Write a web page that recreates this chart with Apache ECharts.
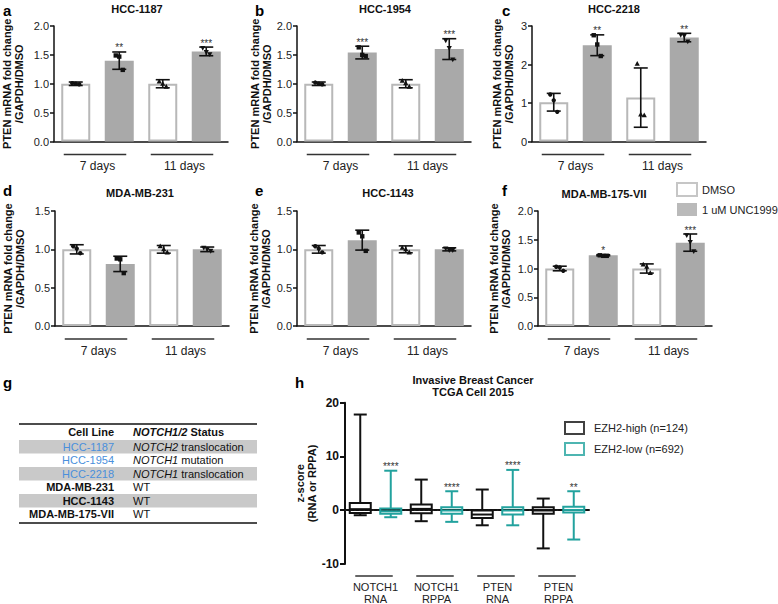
<!DOCTYPE html>
<html><head><meta charset="utf-8">
<script src="https://cdn.jsdelivr.net/npm/echarts@6/dist/echarts.min.js"></script>
<style>html,body{margin:0;padding:0;background:#fff}#c{width:778px;height:604px}</style>
</head><body><div id="c"></div>
<script>
const FONT = '"Liberation Sans", Arial, Helvetica, sans-serif';

// ---------------- data ----------------
const barCategories = ['DMSO 7 days', 'UNC1999 7 days', 'DMSO 11 days', 'UNC1999 11 days'];
const groupLabels = ['7 days', '11 days'];
const treatmentNames = ['DMSO', '1 uM UNC1999'];
const yAxisTitle = 'PTEN mRNA fold change\n/GAPDH/DMSO';

const hcc1187Mean = [1.00, 1.40, 1.00, 1.56];
const hcc1187Sd = [0.03, 0.15, 0.07, 0.075];
const hcc1187Points = [[1.01, 1.00, 0.99], [1.49, 1.47, 1.24], [1.04, 1.00, 0.95], [1.62, 1.55, 1.51]];
const hcc1187Stars = ['', '**', '', '***'];

const hcc1954Mean = [1.00, 1.54, 1.00, 1.60];
const hcc1954Sd = [0.03, 0.11, 0.07, 0.18];
const hcc1954Points = [[1.02, 1.00, 0.99], [1.63, 1.50, 1.48], [1.05, 1.01, 0.95], [1.75, 1.62, 1.42]];
const hcc1954Stars = ['', '***', '', '***'];

const hcc2218Mean = [1.02, 2.50, 1.14, 2.70];
const hcc2218Sd = [0.23, 0.27, 0.77, 0.11];
const hcc2218Points = [[1.22, 1.07, 0.77], [2.76, 2.52, 2.22], [2.02, 0.70, 0.68], [2.77, 2.75, 2.60]];
const hcc2218Stars = ['', '**', '', '**'];

const mda231Mean = [1.00, 0.81, 1.00, 1.00];
const mda231Sd = [0.06, 0.10, 0.05, 0.03];
const mda231Points = [[1.04, 1.01, 0.95], [0.88, 0.87, 0.69], [1.04, 1.00, 0.96], [1.02, 1.00, 0.98]];
const mda231Stars = ['', '', '', ''];

const hcc1143Mean = [1.00, 1.12, 1.00, 1.00];
const hcc1143Sd = [0.05, 0.13, 0.045, 0.02];
const hcc1143Points = [[1.04, 1.01, 0.96], [1.22, 1.17, 0.98], [1.02, 1.00, 0.96], [1.01, 0.99, 0.99]];
const hcc1143Stars = ['', '', '', ''];

const mda175Mean = [1.00, 1.23, 1.00, 1.45];
const mda175Sd = [0.04, 0.01, 0.08, 0.15];
const mda175Points = [[1.03, 1.02, 0.96], [1.23, 1.22, 1.22], [1.07, 1.03, 0.92], [1.58, 1.46, 1.30]];
const mda175Stars = ['', '*', '', '***'];

// table (panel g)
const tableHeader = ['Cell Line', 'NOTCH1/2', ' Status'];
const tableCellLines = ['HCC-1187', 'HCC-1954', 'HCC-2218', 'MDA-MB-231', 'HCC-1143', 'MDA-MB-175-VII'];
const tableNotchAltered = [true, true, true, false, false, false];
const tableStatusGene = ['NOTCH2', 'NOTCH1', 'NOTCH1', '', '', ''];
const tableStatusRest = [' translocation', ' mutation', ' translocation', 'WT', 'WT', 'WT'];

// boxplot (panel h): [min, Q1, median, Q3, max]
const boxGroups = ['NOTCH1\nRNA', 'NOTCH1\nRPPA', 'PTEN\nRNA', 'PTEN\nRPPA'];
const boxSeriesNames = ['EZH2-high (n=124)', 'EZH2-low (n=692)'];
const ezh2HighBoxes = [[-0.93, -0.5, 0.2, 1.36, 17.8], [-2.04, -0.55, 0.25, 1.05, 5.7], [-2.8, -1.45, -0.8, -0.05, 3.85], [-7.1, -0.65, -0.05, 0.55, 2.17]];
const ezh2LowBoxes = [[-1.3, -0.65, -0.2, 0.3, 7.35], [-2.16, -0.65, -0.05, 0.55, 3.53], [-2.8, -0.8, -0.05, 0.55, 7.5], [-5.45, -0.4, 0.05, 0.65, 3.53]];
const ezh2LowStars = ['****', '****', '****', '**'];
const boxYTicks = [-10, 0, 10, 20];

// ---------------- styles / layout ----------------
const WHITE_BAR = { color: '#ffffff', borderColor: '#b8b8b8', borderWidth: 2 };
const GREY_BAR = { color: '#a9a9a9', borderColor: '#a9a9a9', borderWidth: 0 };
const TEAL = '#22a29e';
const AX = { color: '#111', width: 1.5 };
const INK = '#222';

const panels = [
  { letter: 'a', title: 'HCC-1187', mean: hcc1187Mean, sd: hcc1187Sd, pts: hcc1187Points, stars: hcc1187Stars, max: 2, interval: 0.5, dec: 1, left: 54, top: 26, height: 115.5, nameGap: 29, titleX: 137, titleTop: 2, letterX: 3, letterY: 10 },
  { letter: 'b', title: 'HCC-1954', mean: hcc1954Mean, sd: hcc1954Sd, pts: hcc1954Points, stars: hcc1954Stars, max: 2, interval: 0.5, dec: 1, left: 297, top: 26, height: 115.5, nameGap: 24, titleX: 385, titleTop: 2, letterX: 255, letterY: 10 },
  { letter: 'c', title: 'HCC-2218', mean: hcc2218Mean, sd: hcc2218Sd, pts: hcc2218Points, stars: hcc2218Stars, max: 3, interval: 1, dec: 0, left: 532, top: 26, height: 115.5, nameGap: 17, titleX: 614, titleTop: 2, letterX: 502, letterY: 10 },
  { letter: 'd', title: 'MDA-MB-231', mean: mda231Mean, sd: mda231Sd, pts: mda231Points, stars: mda231Stars, max: 1.5, interval: 0.5, dec: 1, left: 55, top: 211, height: 115, nameGap: 29, titleX: 140, titleTop: 186, letterX: 3, letterY: 190 },
  { letter: 'e', title: 'HCC-1143', mean: hcc1143Mean, sd: hcc1143Sd, pts: hcc1143Points, stars: hcc1143Stars, max: 1.5, interval: 0.5, dec: 1, left: 297, top: 211, height: 115, nameGap: 25, titleX: 388, titleTop: 186, letterX: 255, letterY: 190 },
  { letter: 'f', title: 'MDA-MB-175-VII', mean: mda175Mean, sd: mda175Sd, pts: mda175Points, stars: mda175Stars, max: 2, interval: 0.5, dec: 1, left: 538, top: 211, height: 115, nameGap: 26, titleX: 604, titleTop: 187, letterX: 502, letterY: 190 }
];

const grids = [], xAxes = [], yAxes = [], series = [], titles = [];

function groupSeries(idx, pairs, labels, baseY, extL, extR, fontSize, lineOff) {
  return {
    type: 'custom', xAxisIndex: idx, yAxisIndex: idx, silent: true, clip: false,
    itemStyle: { color: INK },
    data: pairs,
    renderItem: function (params, api) {
      const p0 = api.coord([api.value(0), baseY]);
      const p1 = api.coord([api.value(1), baseY]);
      const y = p0[1] + lineOff;
      const x1 = p0[0] - extL, x2 = p1[0] + extR;
      return { type: 'group', children: [
        { type: 'line', shape: { x1: x1, y1: y, x2: x2, y2: y }, style: { stroke: '#333', lineWidth: 1.6 } },
        { type: 'text', style: { text: labels[params.dataIndex], x: (p0[0] + p1[0]) / 2, y: y + 5, align: 'center', verticalAlign: 'top', fontSize: fontSize, lineHeight: fontSize + 1, fontFamily: FONT, fill: INK } }
      ] };
    }
  };
}

function starSeries(idx, data, stars, gap) {
  return {
    type: 'custom', xAxisIndex: idx, yAxisIndex: idx, silent: true, clip: false,
    itemStyle: { color: '#333' },
    data: data,
    renderItem: function (params, api) {
      const s = stars[params.dataIndex];
      if (!s) return null;
      const c = api.coord([api.value(0), api.value(1)]);
      return { type: 'text', style: { text: s, x: c[0], y: c[1] + gap, align: 'center', verticalAlign: 'bottom', fontSize: 10, fontFamily: FONT, fill: '#333' } };
    }
  };
}

panels.forEach(function (p, i) {
  grids.push({ left: p.left, top: p.top, width: 174, height: p.height });
  xAxes.push({
    gridIndex: i, type: 'category', data: barCategories,
    axisLine: { lineStyle: AX }, axisTick: { alignWithLabel: true, length: 5, lineStyle: AX },
    axisLabel: { show: false }, splitLine: { show: false }
  });
  yAxes.push({
    gridIndex: i, type: 'value', min: 0, max: p.max, interval: p.interval,
    axisLine: { show: true, lineStyle: AX }, axisTick: { show: true, length: 4, lineStyle: AX },
    axisLabel: { formatter: function (v) { return v.toFixed(p.dec); }, fontSize: 11, color: INK, fontFamily: FONT, margin: 5 },
    splitLine: { show: false },
    name: yAxisTitle, nameLocation: 'middle', nameGap: p.nameGap,
    nameTextStyle: { fontWeight: 'bold', fontSize: 11, lineHeight: 12, color: '#111', fontFamily: FONT }
  });
  series.push({
    type: 'bar', xAxisIndex: i, yAxisIndex: i, barWidth: 29, silent: true,
    data: p.mean.map(function (v, k) { return { value: v, itemStyle: k % 2 === 0 ? WHITE_BAR : GREY_BAR }; })
  });
  // error bars (mean +/- SD)
  series.push({
    type: 'custom', xAxisIndex: i, yAxisIndex: i, silent: true, clip: false, z: 4,
    itemStyle: { color: '#111' },
    data: p.mean.map(function (m, k) { return [k, m, p.sd[k]]; }),
    renderItem: function (params, api) {
      const x = api.value(0), m = api.value(1), s = api.value(2);
      const t = api.coord([x, m + s]), b = api.coord([x, m - s]);
      const cx = t[0], w = 7, st = { stroke: '#111', lineWidth: 1.6 };
      return { type: 'group', children: [
        { type: 'line', shape: { x1: cx, y1: t[1], x2: cx, y2: b[1] }, style: st },
        { type: 'line', shape: { x1: cx - w, y1: t[1], x2: cx + w, y2: t[1] }, style: st },
        { type: 'line', shape: { x1: cx - w, y1: b[1], x2: cx + w, y2: b[1] }, style: st }
      ] };
    }
  });
  // individual replicate points
  const ptData = [];
  p.pts.forEach(function (arr, k) { arr.forEach(function (v, j) { ptData.push([k, v, j]); }); });
  series.push({
    type: 'custom', xAxisIndex: i, yAxisIndex: i, silent: true, clip: false, z: 5,
    itemStyle: { color: '#111' },
    data: ptData,
    renderItem: function (params, api) {
      const k = api.value(0), j = api.value(2);
      const c = api.coord([k, api.value(1)]);
      const x = c[0] + (j - 1) * 3.5, y = c[1], r = 2.2;
      const st = { fill: '#111' };
      if (k === 0) return { type: 'circle', shape: { cx: x, cy: y, r: r }, style: st };
      if (k === 1) return { type: 'rect', shape: { x: x - r, y: y - r, width: 2 * r, height: 2 * r }, style: st };
      if (k === 2) return { type: 'polygon', shape: { points: [[x, y - 2.8], [x - 2.6, y + 2], [x + 2.6, y + 2]] }, style: st };
      return { type: 'polygon', shape: { points: [[x, y + 2.8], [x - 2.6, y - 2], [x + 2.6, y - 2]] }, style: st };
    }
  });
  series.push(starSeries(i, p.mean.map(function (m, k) { return [k, m + p.sd[k]]; }), p.stars, 1));
  series.push(groupSeries(i, [[0, 1], [2, 3]], groupLabels, 0, 12, 7, 12, 13));
  titles.push({ text: p.title, left: p.titleX, top: p.titleTop, textAlign: 'center', padding: 0,
    textStyle: { fontSize: 11, fontWeight: 'bold', fontFamily: FONT, color: '#111', lineHeight: 13 } });
});

// ---------------- panel h (box-and-whisker, min to max) ----------------
const H = panels.length;
const boxCats = [];
const boxData = [];
const starData = [];
const starText = [];
const boxPairs = [];
boxGroups.forEach(function (g, k) {
  boxCats.push(g.replace('\n', ' ') + ' EZH2-high', g.replace('\n', ' ') + ' EZH2-low');
  boxData.push([2 * k].concat(ezh2HighBoxes[k]));
  boxData.push([2 * k + 1].concat(ezh2LowBoxes[k]));
  starData.push([2 * k + 1, ezh2LowBoxes[k][4]]);
  starText.push(ezh2LowStars[k]);
  boxPairs.push([2 * k, 2 * k + 1]);
});
grids.push({ left: 345, top: 402.7, width: 244, height: 161.3 });
xAxes.push({ gridIndex: H, type: 'category', data: boxCats,
  axisLine: { lineStyle: { color: '#111', width: 2 } }, axisTick: { alignWithLabel: true, length: 5, lineStyle: { color: '#111', width: 2 } },
  axisLabel: { show: false }, splitLine: { show: false } });
yAxes.push({ gridIndex: H, type: 'value', min: boxYTicks[0], max: boxYTicks[boxYTicks.length - 1], interval: 10,
  axisLine: { show: true, lineStyle: { color: '#111', width: 2 } }, axisTick: { show: true, length: 5, lineStyle: { color: '#111', width: 2 } },
  axisLabel: { fontSize: 12, fontWeight: 'bold', color: '#111', fontFamily: FONT, margin: 6 },
  splitLine: { show: false },
  name: 'z-score\n(RNA or RPPA)', nameLocation: 'middle', nameGap: 27,
  nameTextStyle: { fontWeight: 'bold', fontSize: 11, lineHeight: 12, color: '#111', fontFamily: FONT } });
// dotted zero reference line across the plot
series.push({ type: 'custom', xAxisIndex: H, yAxisIndex: H, silent: true, clip: false, z: 1,
  itemStyle: { color: '#222' }, data: [[0, 0]],
  renderItem: function (params, api) {
    const cs = params.coordSys;
    const y = api.coord([0, api.value(1)])[1];
    return { type: 'line', shape: { x1: cs.x, y1: y, x2: cs.x + cs.width, y2: y }, style: { stroke: '#222', lineWidth: 1.6, lineDash: [1.6, 3] } };
  } });
series.push({ type: 'custom', xAxisIndex: H, yAxisIndex: H, silent: true, clip: false, z: 3,
  encode: { x: 0, y: [1, 2, 3, 4, 5] },
  itemStyle: { color: '#111' }, data: boxData,
  renderItem: function (params, api) {
    const x = api.value(0);
    const pMin = api.coord([x, api.value(1)]), pQ1 = api.coord([x, api.value(2)]), pMed = api.coord([x, api.value(3)]),
      pQ3 = api.coord([x, api.value(4)]), pMax = api.coord([x, api.value(5)]);
    const cx = pMin[0], hw = 10.5, cw = 6.5;
    const st = { stroke: params.dataIndex % 2 === 0 ? '#111' : TEAL, lineWidth: 2, fill: null };
    return { type: 'group', children: [
      { type: 'line', shape: { x1: cx, y1: pMax[1], x2: cx, y2: pQ3[1] }, style: st },
      { type: 'line', shape: { x1: cx, y1: pQ1[1], x2: cx, y2: pMin[1] }, style: st },
      { type: 'line', shape: { x1: cx - cw, y1: pMax[1], x2: cx + cw, y2: pMax[1] }, style: st },
      { type: 'line', shape: { x1: cx - cw, y1: pMin[1], x2: cx + cw, y2: pMin[1] }, style: st },
      { type: 'rect', shape: { x: cx - hw, y: pQ3[1], width: 2 * hw, height: pQ1[1] - pQ3[1] }, style: { stroke: st.stroke, lineWidth: 2, fill: 'none' } },
      { type: 'line', shape: { x1: cx - hw, y1: pMed[1], x2: cx + hw, y2: pMed[1] }, style: st }
    ] };
  } });
series.push(starSeries(H, starData, starText, 1));
series.push(groupSeries(H, boxPairs, boxGroups, boxYTicks[0], 5, 2, 11, 12));
titles.push({ text: 'Invasive Breast Cancer\nTCGA Cell 2015', left: 473, top: 374, textAlign: 'center', padding: 0,
  textStyle: { fontSize: 11, fontWeight: 'bold', fontFamily: FONT, color: '#111', lineHeight: 12 } });

// legend placeholder series
treatmentNames.concat(boxSeriesNames).forEach(function (n) {
  series.push({ type: 'scatter', name: n, xAxisIndex: H, yAxisIndex: H, data: [] });
});

// ---------------- graphics: panel letters + table ----------------
const graphics = [];
panels.concat([{ letter: 'g', letterX: 3, letterY: 382 }, { letter: 'h', letterX: 295, letterY: 382 }]).forEach(function (p) {
  graphics.push({ type: 'text', x: p.letterX, y: p.letterY, style: { text: p.letter, fontSize: 15, fontWeight: 'bold', fontFamily: FONT, fill: '#000', verticalAlign: 'middle' } });
});
const TX0 = 19, TX1 = 257, TTOP = 424, THEAD = 432.3, TROW0 = 446.7, TSTEP = 13.5, TNAMEX = 114, TSTATX = 133;
graphics.push({ type: 'line', shape: { x1: TX0, y1: TTOP, x2: TX1, y2: TTOP }, style: { stroke: '#111', lineWidth: 1.6 } });
tableCellLines.forEach(function (name, r) {
  const cy = TROW0 + r * TSTEP;
  if (r % 2 === 0) graphics.push({ type: 'rect', shape: { x: TX0, y: cy - TSTEP / 2, width: TX1 - TX0, height: TSTEP }, style: { fill: '#c9c9c9' } });
  graphics.push({ type: 'text', x: TNAMEX, y: cy, style: { text: name, align: 'right', verticalAlign: 'middle', fontSize: 11, fontWeight: tableNotchAltered[r] ? 'normal' : 'bold', fontFamily: FONT, fill: tableNotchAltered[r] ? '#4a8fdc' : '#111' } });
  const txt = tableStatusGene[r] ? '{i|' + tableStatusGene[r] + '}' + tableStatusRest[r] : tableStatusRest[r];
  graphics.push({ type: 'text', x: TSTATX, y: cy, style: { text: txt, align: 'left', verticalAlign: 'middle', fontSize: 11, fontFamily: FONT, fill: '#111', rich: { i: { fontStyle: 'italic', fontSize: 11, fontFamily: FONT, fill: '#111' } } } });
});
graphics.push({ type: 'text', x: TNAMEX, y: THEAD, style: { text: tableHeader[0], align: 'right', verticalAlign: 'middle', fontSize: 11, fontWeight: 'bold', fontFamily: FONT, fill: '#111' } });
graphics.push({ type: 'text', x: TSTATX, y: THEAD, style: { text: '{bi|' + tableHeader[1] + '}' + tableHeader[2], align: 'left', verticalAlign: 'middle', fontSize: 11, fontWeight: 'bold', fontFamily: FONT, fill: '#111', rich: { bi: { fontStyle: 'italic', fontWeight: 'bold', fontSize: 11, fontFamily: FONT, fill: '#111' } } } });
const TBOT = TROW0 + (tableCellLines.length - 0.5) * TSTEP + 2;
graphics.push({ type: 'line', shape: { x1: TX0, y1: TBOT, x2: TX1, y2: TBOT }, style: { stroke: '#111', lineWidth: 1.6 } });

const option = {
  animation: false,
  backgroundColor: '#fff',
  textStyle: { fontFamily: FONT },
  title: titles,
  grid: grids, xAxis: xAxes, yAxis: yAxes, series: series,
  legend: [
    { left: 671, top: 177, orient: 'vertical', itemWidth: 20, itemHeight: 13, itemGap: 6, selectedMode: false,
      textStyle: { fontSize: 11, fontFamily: FONT, color: INK },
      data: [
        { name: treatmentNames[0], icon: 'rect', itemStyle: WHITE_BAR },
        { name: treatmentNames[1], icon: 'rect', itemStyle: GREY_BAR }
      ] },
    { left: 559, top: 416, orient: 'vertical', itemWidth: 19, itemHeight: 12, itemGap: 7, selectedMode: false,
      textStyle: { fontSize: 11, fontFamily: FONT, color: INK, padding: [0, 0, 0, 5] },
      data: [
        { name: boxSeriesNames[0], icon: 'rect', itemStyle: { color: '#fff', borderColor: '#111', borderWidth: 2 } },
        { name: boxSeriesNames[1], icon: 'rect', itemStyle: { color: '#fff', borderColor: TEAL, borderWidth: 2 } }
      ] }
  ],
  graphic: graphics
};
const chart = echarts.init(document.getElementById('c'), null, { renderer: 'svg', width: 778, height: 604 });
chart.setOption(option);
</script></body></html>
